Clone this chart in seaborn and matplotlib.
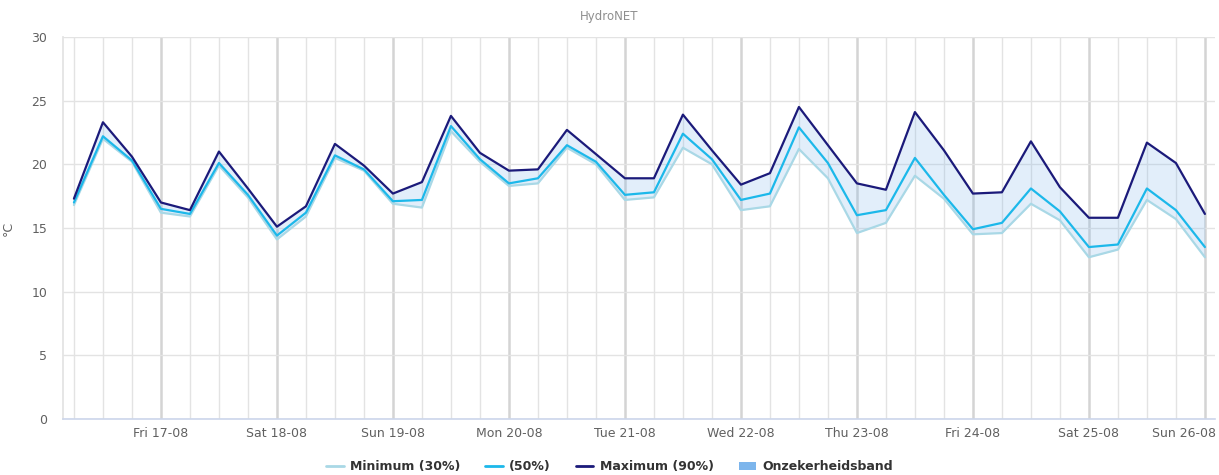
import pandas as pd
import numpy as np
import matplotlib
matplotlib.use("Agg")
import matplotlib.pyplot as plt
import matplotlib.dates as mdates
from matplotlib.lines import Line2D
from matplotlib.patches import Patch
import seaborn as sns

# forecast every 6 hours, Thu 16-08 06:00 .. Sun 26-08 00:00
start_time = "2018-08-16 06:00"
step = "6h"

max_vals = [17.3, 23.3, 20.6, 17.0, 16.4, 21.0, 18.1, 15.1, 16.7, 21.6,
            19.9, 17.7, 18.6, 23.8, 20.9, 19.5, 19.6, 22.7, 20.8, 18.9,
            18.9, 23.9, 21.1, 18.4, 19.3, 24.5, 21.5, 18.5, 18.0, 24.1,
            21.1, 17.7, 17.8, 21.8, 18.2, 15.8, 15.8, 21.7, 20.1, 16.1]
mid_vals = [17.0, 22.2, 20.3, 16.5, 16.1, 20.1, 17.6, 14.4, 16.2, 20.7,
            19.6, 17.1, 17.2, 23.0, 20.4, 18.5, 18.9, 21.5, 20.2, 17.6,
            17.8, 22.4, 20.4, 17.2, 17.7, 22.9, 20.1, 16.0, 16.4, 20.5,
            17.6, 14.9, 15.4, 18.1, 16.3, 13.5, 13.7, 18.1, 16.4, 13.5]
min_vals = [16.8, 22.0, 20.2, 16.2, 15.9, 19.9, 17.4, 14.1, 15.9, 20.5,
            19.5, 16.9, 16.6, 22.6, 20.2, 18.3, 18.5, 21.3, 20.0, 17.2,
            17.4, 21.3, 20.0, 16.4, 16.7, 21.2, 18.9, 14.6, 15.4, 19.1,
            17.3, 14.5, 14.6, 16.9, 15.6, 12.7, 13.3, 17.2, 15.7, 12.7]

series_names = ["Minimum (30%)", "(50%)", "Maximum (90%)"]
band_name = "Onzekerheidsband"
y_ticks = [0, 5, 10, 15, 20, 25, 30]
day_ticks = ["Fri 17-08", "Sat 18-08", "Sun 19-08", "Mon 20-08", "Tue 21-08",
             "Wed 22-08", "Thu 23-08", "Fri 24-08", "Sat 25-08", "Sun 26-08"]

colors = {"Minimum (30%)": "#a9d8e6", "(50%)": "#1cb8ea", "Maximum (90%)": "#1b1a7a"}
band_color = "#7cb5ec"

times = pd.date_range(start_time, periods=len(max_vals), freq=step)
days = pd.date_range("2018-08-17", periods=len(day_ticks), freq="D")
df = pd.DataFrame({
    "time": times,
    "Minimum (30%)": min_vals,
    "(50%)": mid_vals,
    "Maximum (90%)": max_vals,
})
long = df.melt(id_vars="time", var_name="series", value_name="temp")

sns.set_theme(style="white")
plt.rcParams["font.family"] = ["DejaVu Sans"]

fig = plt.figure(figsize=(12.19, 4.75), dpi=100)
ax = fig.add_axes([0.0514, 0.118, 0.9453, 0.8042])

# uncertainty band between min and max
ax.fill_between(df["time"], df["Minimum (30%)"], df["Maximum (90%)"],
                color=band_color, alpha=0.22, linewidth=0, zorder=1)

sns.lineplot(data=long, x="time", y="temp", hue="series",
             hue_order=series_names, palette=colors, linewidth=1.6,
             legend=False, ax=ax, zorder=3)

ax.set_ylim(0, 30)
ax.set_yticks(y_ticks)
ax.set_xlim(pd.Timestamp("2018-08-16 03:40"), pd.Timestamp("2018-08-26 02:05"))

# last day label is pushed inside the plot, like the original
ax.set_xticks(days, day_ticks[:-1] + [""])
ax.annotate(day_ticks[-1], xy=(days[-1], 0), xycoords=("data", "axes fraction"),
            xytext=(8, -6), textcoords="offset points", ha="right", va="top",
            fontsize=9, color="#606060")
ax.xaxis.set_minor_locator(mdates.HourLocator(byhour=[6, 12, 18]))

ax.grid(True, axis="y", color="#e3e3e3", linewidth=1.0)
ax.grid(True, axis="x", which="major", color="#d4d4d4", linewidth=1.8)
ax.grid(True, axis="x", which="minor", color="#e3e3e3", linewidth=1.0)
ax.set_axisbelow(True)

for side in ["top", "right"]:
    ax.spines[side].set_visible(False)
ax.spines["left"].set_color("#e3e3e3")
ax.spines["bottom"].set_color("#ccd6eb")
ax.spines["bottom"].set_linewidth(1.2)

ax.tick_params(axis="both", which="both", length=0, labelsize=9, labelcolor="#606060")
ax.tick_params(axis="x", pad=6)
ax.tick_params(axis="y", pad=11)

ax.set_xlabel("")
ax.set_ylabel("°C", fontsize=9, color="#606060", labelpad=12)

fig.text(0.5, 0.965, "HydroNET", ha="center", va="center", fontsize=8.5, color="#8f8f8f")

handles = [Line2D([0], [0], color=colors[n], linewidth=2) for n in series_names]
handles.append(Patch(facecolor=band_color, edgecolor="none"))
labels = series_names + [band_name]
leg = fig.legend(handles, labels, loc="center", bbox_to_anchor=(0.5, 0.017),
                 ncol=4, frameon=False, handlelength=1.4, handletextpad=0.5,
                 columnspacing=2.0, prop={"size": 9, "weight": "bold"})
for t in leg.get_texts():
    t.set_color("#333333")

fig.savefig("out.png", dpi=100)
